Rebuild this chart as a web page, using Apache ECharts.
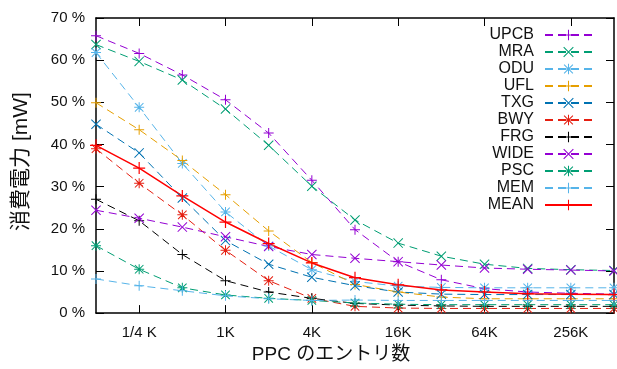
<!DOCTYPE html>
<html><head><meta charset="utf-8">
<script src="https://cdn.jsdelivr.net/npm/echarts@6/dist/echarts.min.js"></script>
<style>html,body{margin:0;padding:0;background:#fff}#c{width:617px;height:369px}</style>
</head><body><div id="c"></div>
<script>
var categories = ['1/8 K','1/4 K','1/2 K','1K','2K','4K','8K','16K','32K','64K','128K','256K','512K'];
var yTicks = [0,10,20,30,40,50,60,70];
var UPCB = [65.8, 61.6, 56.5, 50.6, 42.7, 31.5, 19.8, 12.2, 7.9, 5.8, 5.0, 4.7, 4.5];
var MRA  = [63.7, 59.7, 55.3, 48.4, 39.8, 30.1, 22.1, 16.6, 13.5, 11.6, 10.6, 10.3, 10.1];
var ODU  = [61.8, 48.8, 35.5, 24.0, 15.9, 10.3, 7.5, 6.4, 6.1, 6.0, 6.0, 6.0, 6.0];
var UFL  = [49.9, 43.5, 36.2, 28.1, 19.5, 12.0, 6.8, 5.0, 3.8, 3.4, 3.4, 3.4, 3.4];
var TXG  = [44.8, 38.0, 27.3, 17.2, 11.6, 8.5, 6.5, 5.0, 4.5, 4.4, 4.4, 4.4, 4.4];
var BWY  = [39.0, 30.8, 23.3, 14.9, 7.7, 3.5, 1.6, 1.2, 1.1, 1.1, 1.1, 1.1, 1.1];
var FRG  = [27.0, 21.9, 13.9, 7.7, 5.0, 3.5, 2.3, 1.9, 1.7, 1.6, 1.6, 1.6, 1.6];
var WIDE = [24.4, 22.5, 20.4, 18.1, 15.8, 13.9, 13.0, 12.2, 11.4, 10.7, 10.4, 10.2, 10.0];
var PSC  = [16.0, 10.4, 6.0, 4.3, 3.5, 3.0, 2.4, 2.1, 2.0, 2.0, 2.0, 2.0, 2.0];
var MEM  = [8.1, 6.5, 5.3, 4.1, 3.4, 3.0, 3.1, 3.0, 3.0, 3.0, 3.0, 3.0, 3.0];
var MEAN = [39.8, 34.4, 27.8, 21.6, 16.5, 11.9, 8.4, 6.7, 5.5, 5.0, 4.6, 4.5, 4.4];

var PLUS = 'path://M4.5,0h1v4.5h4.5v1h-4.5v4.5h-1v-4.5h-4.5v-1h4.5z';
var CROSS = 'path://M0,0.7L0.7,0L5,4.3L9.3,0L10,0.7L5.7,5L10,9.3L9.3,10L5,5.7L0.7,10L0,9.3L4.3,5z';
var STAR = 'path://M4.5,0h1v4.5h4.5v1h-4.5v4.5h-1v-4.5h-4.5v-1h4.5zM0.4,1.1L1.1,0.4L5,4.3L8.9,0.4L9.6,1.1L5.7,5L9.6,8.9L8.9,9.6L5,5.7L1.1,9.6L0.4,8.9L4.3,5z';

var FONT = '"Liberation Sans", Arial, "Noto Sans CJK JP", sans-serif';

function mk(name, data, color, sym, solid) {
  return {
    name: name, type: 'line', data: data,
    symbol: sym, symbolSize: solid ? 12 : 10,
    showAllSymbol: true,
    lineStyle: { color: color, width: solid ? 1.5 : 1, type: solid ? 'solid' : [8, 5] },
    itemStyle: { color: color, borderWidth: 0 },
    emphasis: { disabled: true },
    animation: false
  };
}

var tickIdx = function (i) { return i % 2 === 1; };

var chart = echarts.init(document.getElementById('c'), null, { renderer: 'canvas' });
chart.setOption({
  animation: false,
  backgroundColor: '#fff',
  grid: { left: 96, right: 3, top: 18, bottom: 51, containLabel: false },
  legend: {
    orient: 'vertical', right: 24, top: 27, align: 'right', padding: 0,
    itemWidth: 47, itemHeight: 13, itemGap: 1,
    textStyle: { fontSize: 16, fontFamily: FONT, color: '#111', padding: [0, 6, 0, 0] },
    data: ['UPCB','MRA','ODU','UFL','TXG','BWY','FRG','WIDE','PSC','MEM','MEAN']
  },
  xAxis: [{
    type: 'category', data: categories, boundaryGap: false, position: 'bottom',
    name: 'PPC のエントリ数', nameLocation: 'middle', nameGap: 29,
    nameTextStyle: { fontSize: 19, fontFamily: FONT, color: '#111', padding: [0, 48, 0, 0] },
    axisLine: { onZero: false, lineStyle: { color: '#000', width: 1.5 } },
    axisTick: { inside: true, length: 8, interval: tickIdx, lineStyle: { color: '#000' } },
    axisLabel: { interval: tickIdx, fontSize: 15, fontFamily: FONT, color: '#111', margin: 12 },
    splitLine: { show: false }
  }, {
    type: 'category', data: categories, boundaryGap: false, position: 'top',
    axisLine: { onZero: false, lineStyle: { color: '#000', width: 1.5 } },
    axisTick: { inside: true, length: 8, interval: tickIdx, lineStyle: { color: '#000' } },
    axisLabel: { show: false }, splitLine: { show: false }
  }],
  yAxis: [{
    type: 'value', min: yTicks[0], max: yTicks[yTicks.length - 1], interval: 10, position: 'left',
    name: '消費電力 [mW]', nameLocation: 'middle', nameGap: 64,
    nameTextStyle: { fontSize: 21, fontFamily: FONT, color: '#111', padding: [0, 0, 0, 8] },
    axisLine: { show: true, onZero: false, lineStyle: { color: '#000', width: 1.5 } },
    axisTick: { show: true, inside: true, length: 8, lineStyle: { color: '#000' } },
    axisLabel: { formatter: '{value} %', fontSize: 15, fontFamily: FONT, color: '#111', margin: 11 },
    splitLine: { show: false }
  }, {
    type: 'value', min: yTicks[0], max: yTicks[yTicks.length - 1], interval: 10, position: 'right',
    axisLine: { show: true, onZero: false, lineStyle: { color: '#000', width: 1.5 } },
    axisTick: { show: true, inside: true, length: 8, lineStyle: { color: '#000' } },
    axisLabel: { show: false }, splitLine: { show: false }
  }],
  series: [
    mk('UPCB', UPCB, '#9400d3', PLUS),
    mk('MRA', MRA, '#009e73', CROSS),
    mk('ODU', ODU, '#56b4e9', STAR),
    mk('UFL', UFL, '#e69f00', PLUS),
    mk('TXG', TXG, '#0072b2', CROSS),
    mk('BWY', BWY, '#e51e10', STAR),
    mk('FRG', FRG, '#000000', PLUS),
    mk('WIDE', WIDE, '#9400d3', CROSS),
    mk('PSC', PSC, '#009e73', STAR),
    mk('MEM', MEM, '#56b4e9', PLUS),
    mk('MEAN', MEAN, '#ff0000', PLUS, true)
  ]
});
</script></body></html>
